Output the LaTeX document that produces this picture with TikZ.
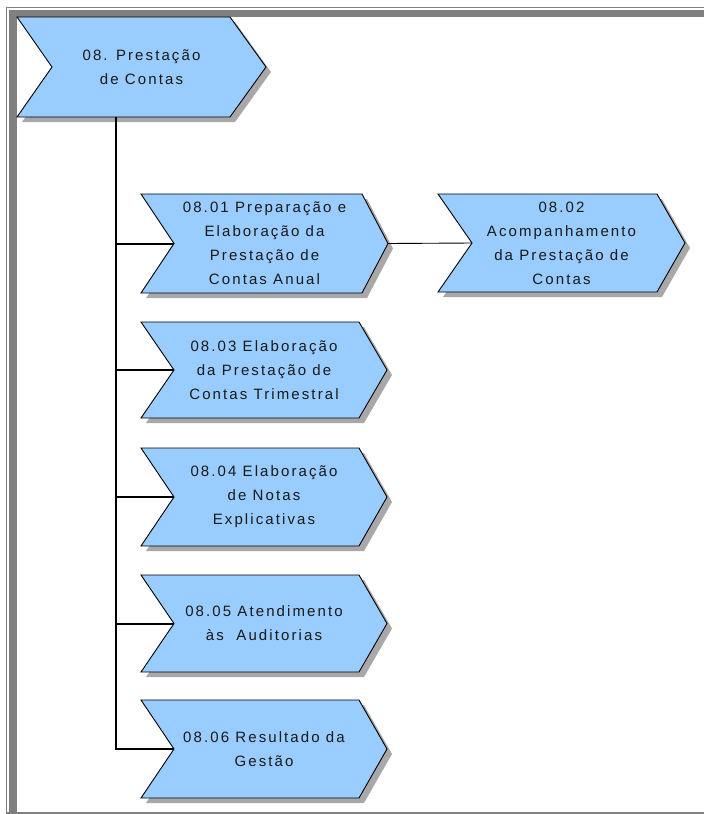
\documentclass[tikz,border=0pt]{standalone}
\usepackage{fontspec}
\setmainfont{Liberation Sans}[LetterSpace=14]
\definecolor{boxblue}{RGB}{153,204,255}
\definecolor{shadowgray}{RGB}{168,168,168}
\definecolor{framegray}{RGB}{128,128,128}
\definecolor{textgray}{RGB}{25,25,25}

\tikzset{
  chevbox/.style={fill=boxblue, draw=black, line width=0.9pt, line join=miter},
  chevshadow/.style={fill=shadowgray},
  chevtext/.style={align=center, inner sep=0pt, text=textgray,
    font=\fontsize{15}{24}\selectfont},
  trunk/.style={draw=black, line width=2pt},
  link/.style={draw=black, line width=0.9pt},
}

% #1 name, #2 left x, #3 top y, #4 right corner x, #5 tip x,
% #6 notch x, #7 bottom y, #8 label
\newcommand\chevron[8]{%
  \begin{scope}[shift={(5,5)}]
    \fill[chevshadow] (#2,#3) -- (#4,#3) -- (#5,{(#3+#7)/2}) -- (#4,#7)
      -- (#2,#7) -- (#6,{(#3+#7)/2}) -- cycle;
  \end{scope}
  \draw[chevbox] (#2,#3) -- (#4,#3) -- (#5,{(#3+#7)/2}) -- (#4,#7)
      -- (#2,#7) -- (#6,{(#3+#7)/2}) -- cycle;
  \coordinate (#1-in) at (#6,{(#3+#7)/2});
  \coordinate (#1-out) at (#5,{(#3+#7)/2});
  \node[chevtext] (#1) at ({(#2+#5)/2},{(#3+#7)/2}) {#8};
}

\begin{document}
\begin{tikzpicture}[x=1pt, y=-1pt]
  \useasboundingbox (0,0) rectangle (704,814);
  \fill[white] (0,0) rectangle (704,814);

  % window frame
  \fill[framegray] (9,10) rectangle (704,17);
  \fill[framegray] (9,10) rectangle (17,814);
  \draw[framegray, line width=1.3pt] (6.5,814) -- (6.5,7.5) -- (704,7.5);
  \fill[framegray] (6,812.3) rectangle (704,814);

  % process chevrons
  \chevron{m}{17}{17}{230}{266}{52}{117}{08. Prestação\\de Contas}
  \chevron{c1}{141}{194}{362}{388}{174}{293}{08.01 Preparação e\\Elaboração da\\Prestação de\\Contas Anual}
  \chevron{c2}{438}{194}{657}{685}{472}{292}{08.02\\Acompanhamento\\da Prestação de\\Contas}
  \chevron{c3}{141}{322}{359}{387}{174}{418}{08.03 Elaboração\\da Prestação de\\Contas Trimestral}
  \chevron{c4}{141}{448}{359}{387}{174}{546}{08.04 Elaboração\\de Notas\\Explicativas}
  \chevron{c5}{141}{575}{359}{387}{174}{672}{08.05 Atendimento\\às\ \ Auditorias}
  \chevron{c6}{141}{700}{359}{387}{174}{798}{08.06 Resultado da\\Gestão}

  % hierarchy connectors
  \coordinate (m-foot) at (116,117);
  \draw[trunk] (m-foot) |- (c6-in);
  \draw[trunk] (m-foot |- c1-in) -- (c1-in);
  \draw[trunk] (m-foot |- c3-in) -- (c3-in);
  \draw[trunk] (m-foot |- c4-in) -- (c4-in);
  \draw[trunk] (m-foot |- c5-in) -- (c5-in);
  \draw[link] (c1-out) -- (c2-in);
\end{tikzpicture}
\end{document}
